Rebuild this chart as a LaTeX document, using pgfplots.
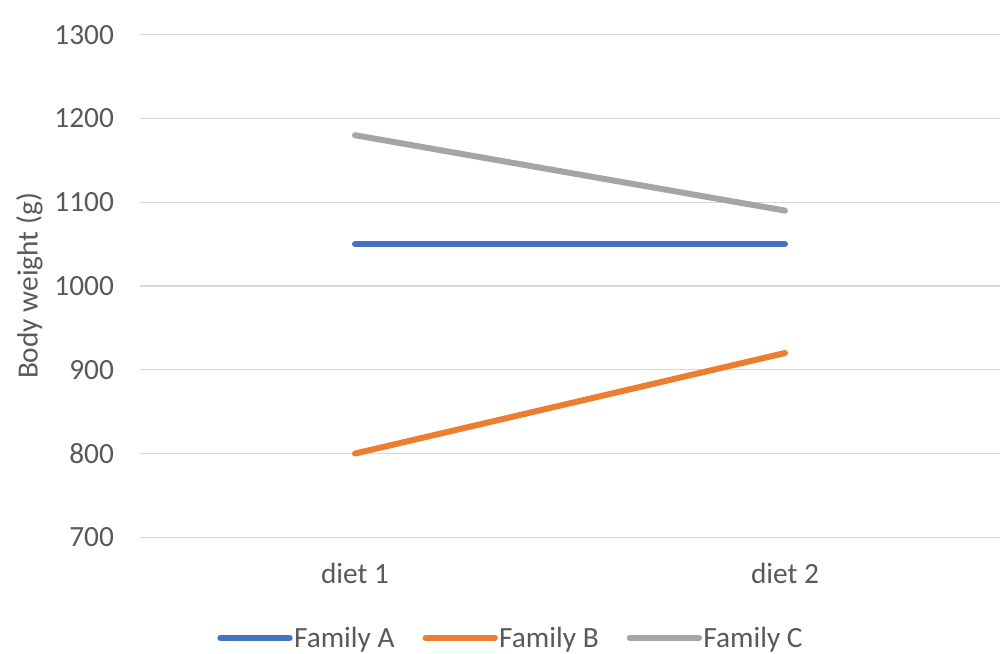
\documentclass[border=0pt]{standalone}
\usepackage{pgfplots}
\pgfplotsset{compat=1.18}
\usepackage{fontspec}
\setmainfont{Carlito}
\definecolor{cA}{HTML}{4472C4}
\definecolor{cB}{HTML}{ED7D31}
\definecolor{cC}{HTML}{A5A5A5}
\definecolor{txt}{HTML}{595959}
\definecolor{grd}{HTML}{D9D9D9}
\begin{document}
\begin{tikzpicture}
\useasboundingbox (-105pt,-87pt) rectangle (646.5pt,403pt);
\begin{axis}[
  scale only axis,
  width=645pt, height=377pt,
  xmin=-0.5, xmax=1.5,
  ymin=700, ymax=1300,
  ytick={700,800,...,1300},
  xtick={0,1},
  xticklabels={diet 1, diet 2},
  axis line style={draw=none},
  major tick length=0pt,
  ymajorgrids, grid style={grd, line width=0.9pt},
  tick label style={font=\fontsize{22}{26}\selectfont, text=txt},
  /pgf/number format/assume math mode=true,
  /pgf/number format/1000 sep={},
  yticklabel style={xshift=-16pt},
  xticklabel style={yshift=-16pt},
  ylabel={Body weight (g)},
  ylabel style={font=\fontsize{22}{26}\selectfont, text=txt, yshift=2pt},
  legend style={at={(0.431,-0.2)}, anchor=center, draw=none, legend columns=-1,
    font=\fontsize{22}{26}\selectfont, text=txt,
    nodes={inner sep=1pt},
    /tikz/every even column/.append style={column sep=20pt}},
  legend image code/.code={\draw[#1, line width=4.5pt, line cap=round] (0pt,0pt) -- (52pt,0pt);},
]
\addplot[cA, line width=4.5pt, line cap=round] coordinates {(0,1050) (1,1050)};
\addplot[cB, line width=4.5pt, line cap=round] coordinates {(0,800) (1,920)};
\addplot[cC, line width=4.5pt, line cap=round] coordinates {(0,1180) (1,1090)};
\legend{Family A, Family B, Family C}
\end{axis}
\end{tikzpicture}
\end{document}
